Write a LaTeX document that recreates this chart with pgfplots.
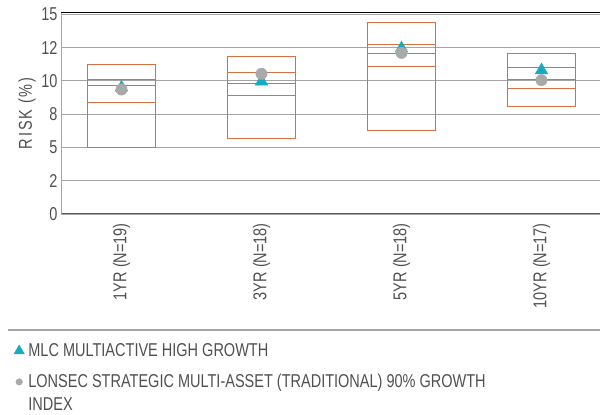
\documentclass[border=0pt]{standalone}
\usepackage{fontspec}
\setmainfont[FakeStretch=0.78]{Liberation Sans}
\usepackage{pgfplots}
\usepackage{pgfplotstable}
\pgfplotsset{compat=1.18}

\definecolor{mlcblue}{RGB}{22,170,196}
\definecolor{lonsecgrey}{RGB}{168,170,170}
\definecolor{boxorange}{RGB}{214,112,66}
\definecolor{gridgrey}{RGB}{165,165,165}
\definecolor{axisdark}{RGB}{90,90,90}
\definecolor{textgrey}{RGB}{80,80,80}

\newcommand{\cf}{\fontsize{18.6}{21}\selectfont}

% risk ranges per period: bottom, lower line, middle line, upper line, top
\pgfplotstableread{
x lo q1 med q3 hi
0 5.00 8.40 9.65 10.10 11.20
1 5.68 8.90 9.80 10.63 11.80
2 6.25 11.05 12.05 12.73 14.38
3 8.10 9.43 10.10 11.00 12.03
}\boxdata

\pgfplotstableread{
x fund index
0 9.50 9.35
1 9.95 10.53
2 12.45 12.10
3 10.80 10.05
}\pointdata

\begin{document}
\begin{tikzpicture}
\useasboundingbox (0,0) rectangle (600pt,415pt);
\begin{axis}[
  at={(61pt,201pt)}, anchor=south west,
  scale only axis, width=539pt, height=201.3pt,
  xmin=-0.432, xmax=3.418, ymin=0, ymax=15.12,
  axis x line*=bottom, axis y line*=left,
  x axis line style={draw=axisdark, line width=1pt},
  y axis line style={draw=gridgrey, line width=0.8pt},
  xtick={0,1,2,3},
  xticklabels={1YR (N=19),3YR (N=18),5YR (N=18),10YR (N=17)},
  ytick={0,2.5,5,7.5,10,12.5,15},
  yticklabels={0,2,5,8,10,12,15},
  major tick length=0pt,
  ymajorgrids, grid style={gridgrey, line width=0.8pt},
  tick label style={font=\cf, text=textgrey},
  xticklabel style={rotate=90, anchor=east, inner xsep=9pt, inner ysep=0pt},
  ylabel={\addfontfeatures{LetterSpace=10}RISK (\%)},
  ylabel style={at={(axis description cs:-0.063,0.5)}, anchor=center, font=\cf, text=textgrey},
  legend style={at={(axis description cs:-0.0872,-0.628)}, anchor=north west,
    draw=none, fill=none, inner sep=0pt, outer sep=0pt, font=\cf, text=textgrey,
    row sep=0pt, column sep=4pt, nodes={inner sep=0pt}, cells={anchor=base west}},
  legend image code/.code={\draw[#1] plot coordinates {(0pt,6pt)};},
  after end axis/.code={\draw[black, line width=1.2pt] (rel axis cs:0,1) -- (rel axis cs:1,1);},
]

% box sides
\addplot[forget plot, draw=none, mark=none,
  error bars/.cd, y dir=plus, y explicit, error mark=none,
  error bar style={draw=boxorange, line width=1pt, xshift=-34.3pt}]
  table[x=x, y=lo, y error expr=\thisrow{hi}-\thisrow{lo}] {\boxdata};
\addplot[forget plot, draw=none, mark=none,
  error bars/.cd, y dir=plus, y explicit, error mark=none,
  error bar style={draw=boxorange, line width=1pt, xshift=34.3pt}]
  table[x=x, y=lo, y error expr=\thisrow{hi}-\thisrow{lo}] {\boxdata};

% horizontal lines
\foreach \col in {lo,q1,med,q3,hi}{
  \addplot[forget plot, only marks, mark=-, mark size=34.3pt, boxorange,
    mark options={line width=1pt}] table[x=x, y=\col] {\boxdata};
}

% fund
\addplot[forget plot, only marks, mark=triangle*, mark size=7.2pt, mlcblue]
  table[x=x, y=fund] {\pointdata};
% index
\addplot[forget plot, only marks, mark=*, mark size=5.7pt, lonsecgrey]
  table[x=x, y=index] {\pointdata};

\addlegendimage{mark=triangle*, mark size=6pt, mlcblue}
\addlegendentry[text height=16.5pt, text depth=14.5pt]{MLC MULTIACTIVE HIGH GROWTH}
\addlegendimage{mark=*, mark size=3.3pt, lonsecgrey}
\addlegendentry[text height=16.5pt, text depth=6pt]{LONSEC STRATEGIC MULTI-ASSET (TRADITIONAL) 90\% GROWTH}
\addlegendimage{empty legend}
\addlegendentry[text height=16.5pt, text depth=6pt]{INDEX}
\end{axis}
\draw[gridgrey, line width=1.5pt] (8pt,85pt) -- (600pt,85pt);
\end{tikzpicture}
\end{document}
